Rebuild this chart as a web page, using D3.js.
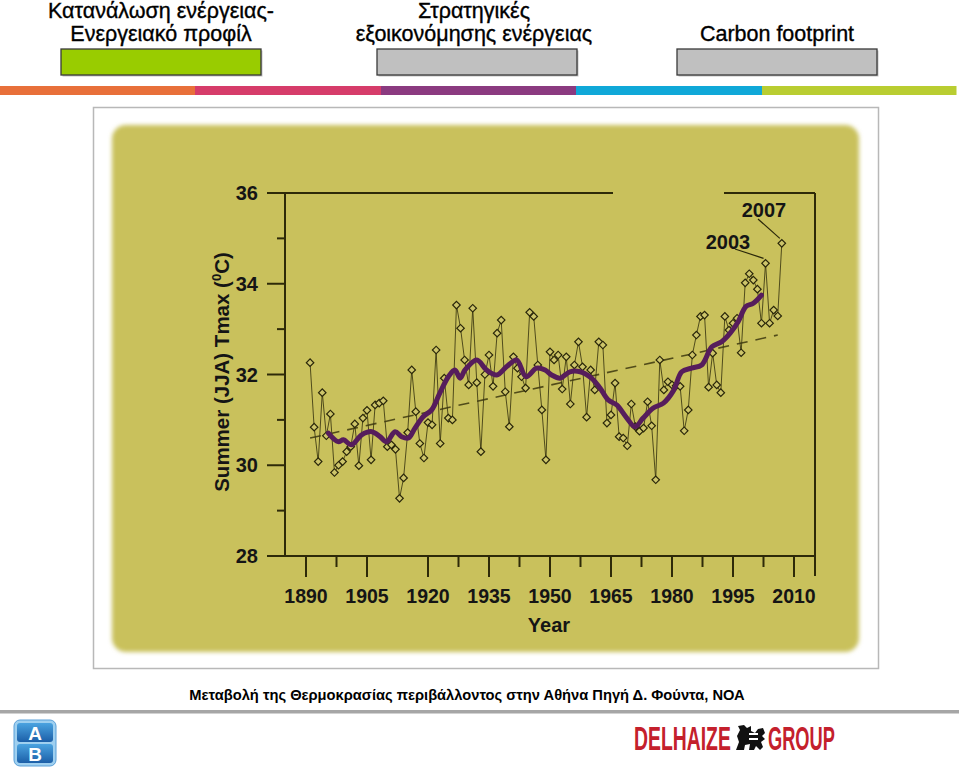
<!DOCTYPE html>
<html><head><meta charset="utf-8">
<script src="https://cdn.jsdelivr.net/npm/d3@7"></script>
<style>
html,body{margin:0;padding:0;background:#fff;}
svg{display:block;}
</style></head>
<body>
<svg id="c" width="959" height="773"></svg>
<script>
(function(){
// ---------- DATA ----------
const headerTitles = [["Κατανάλωση ενέργειας-", "Ενεργειακό προφίλ"], ["Στρατηγικές", "εξοικονόμησης ενέργειας"], ["Carbon footprint"]];
const headerBoxColors = ["#99cc00", "#c0c0c0", "#c0c0c0"];
const stripeColors = ["#e8703a", "#d63c6a", "#8b3a80", "#10a8d8", "#b9cd31"];

const years = [
  1891,1892,1893,1894,1895,1896,1897,1898,1899,1900,
  1901,1902,1903,1904,1905,1906,1907,1908,1909,1910,
  1911,1912,1913,1914,1915,1916,1917,1918,1919,1920,
  1921,1922,1923,1924,1925,1926,1927,1928,1929,1930,
  1931,1932,1933,1934,1935,1936,1937,1938,1939,1940,
  1941,1942,1943,1944,1945,1946,1947,1948,1949,1950,
  1951,1952,1953,1954,1955,1956,1957,1958,1959,1960,
  1961,1962,1963,1964,1965,1966,1967,1968,1969,1970,
  1971,1972,1973,1974,1975,1976,1977,1978,1979,1980,
  1981,1982,1983,1984,1985,1986,1987,1988,1989,1990,
  1991,1992,1993,1994,1995,1996,1997,1998,1999,2000,
  2001,2002,2003,2004,2005,2006,2007];
const tmax = [
  32.26,30.84,30.08,31.60,30.65,31.13,29.84,30.00,30.08,30.30,
  30.41,30.91,29.99,31.04,31.21,30.12,31.33,31.37,31.42,30.41,
  30.45,30.35,29.27,29.72,30.72,32.10,31.18,30.48,30.16,30.94,
  30.89,32.54,30.48,31.92,31.04,31.00,33.53,33.02,32.32,31.77,
  33.46,31.82,30.30,32.00,32.43,31.74,32.91,33.20,31.62,30.85,
  32.39,32.14,31.95,31.70,33.37,33.28,32.21,31.22,30.12,32.50,
  32.32,32.43,31.68,32.39,31.35,32.21,32.72,32.17,31.06,32.10,
  31.66,32.72,32.65,30.93,31.11,31.81,30.63,30.60,30.43,31.35,
  30.85,30.75,30.82,31.40,30.87,29.68,32.32,31.66,31.84,31.77,
  31.75,31.74,30.76,31.22,32.43,32.87,33.28,33.31,31.72,32.47,
  31.77,31.60,33.28,32.98,33.13,33.24,32.48,34.02,34.22,34.08,
  33.88,33.13,34.45,33.13,33.42,33.29,34.89];

// smoothed curve
const smoothYears = [1895.5,1897.9,1899.2,1901.2,1903.7,1906.2,1908.2,1909.8,1911.9,1913.5,1915.2,1916.8,1918.8,1920.9,1922.9,1925.0,1926.6,1927.9,1929.1,1932.0,1934.4,1936.9,1939.3,1941.8,1944.1,1946.7,1948.8,1950.4,1952.5,1954.9,1957.4,1960.2,1962.3,1964.3,1966.4,1968.9,1970.9,1972.9,1975.4,1977.9,1980.4,1982.4,1984.8,1987.3,1989.8,1992.2,1994.3,1996.3,1998.2,2000.0,2002.0];
const smoothValues = [30.71,30.52,30.56,30.45,30.67,30.74,30.63,30.52,30.74,30.63,30.60,30.82,31.07,31.22,31.59,31.95,32.10,31.92,32.10,32.32,32.10,31.99,32.17,32.32,31.95,32.14,32.10,31.99,31.92,32.06,32.06,31.92,31.70,31.44,31.33,31.04,30.85,31.04,31.26,31.37,31.65,32.06,32.14,32.21,32.61,32.72,32.91,33.17,33.50,33.57,33.75];

const trendYears = [1891, 2006];
const trendValues = [30.60, 32.87];

const xTicks = [1890, 1905, 1920, 1935, 1950, 1965, 1980, 1995, 2010];
const xMinorTicks = [1897.5, 1927.5, 1942.5, 1957.5, 1972.5, 1987.5, 2002.5];
const yTicks = [28, 30, 32, 34, 36];
const yMinorTicks = [29, 31, 33, 35];
const annotations = [{label: "2003", year: 2003}, {label: "2007", year: 2007}];
const caption = "Μεταβολή της Θερμοκρασίας περιβάλλοντος στην Αθήνα Πηγή Δ. Φούντα, ΝΟΑ";

// ---------- DRAW ----------
const svg = d3.select("#c");
const FONT = "'Liberation Sans', Arial, Helvetica, sans-serif";
const defs = svg.append("defs");
defs.append("filter").attr("id","soft").attr("x","-5%").attr("y","-5%").attr("width","110%").attr("height","110%")
  .append("feGaussianBlur").attr("stdDeviation", 2.2);
const abGrad = defs.append("linearGradient").attr("id","abg").attr("x1",0).attr("y1",0).attr("x2",0).attr("y2",1);
abGrad.append("stop").attr("offset","0%").attr("stop-color","#4aa3e0");
abGrad.append("stop").attr("offset","100%").attr("stop-color","#1c5fa8");

// header
const headerCx = [161, 474, 777];
const boxX = [61, 377, 677];
headerTitles.forEach((lines, i) => {
  const t = svg.append("text").attr("font-family", FONT).attr("font-size", 21.5)
    .attr("fill", "#000").attr("stroke", "#000").attr("stroke-width", 0.35).attr("text-anchor", "middle");
  const first = lines.length === 1 ? 41 : 18;
  lines.forEach((l, j) => t.append("tspan").attr("x", headerCx[i]).attr("y", first + j * 23).text(l));
  svg.append("rect").attr("x", boxX[i] + 1.5).attr("y", 50.5).attr("width", 200).attr("height", 26).attr("fill", "#8a8a8a").attr("opacity", 0.5);
  svg.append("rect").attr("x", boxX[i]).attr("y", 49).attr("width", 200).attr("height", 26)
    .attr("fill", headerBoxColors[i]).attr("stroke", "#3a3a3a").attr("stroke-width", 1.3);
});

// colour stripe
const stripeStops = [0, 195, 381, 576, 762, 956];
svg.selectAll("rect.stripe").data(stripeColors).join("rect").attr("class","stripe")
  .attr("x", (d, i) => stripeStops[i]).attr("y", 86).attr("width", (d, i) => stripeStops[i + 1] - stripeStops[i] + 0.5)
  .attr("height", 9).attr("fill", d => d);

// frame + panel
svg.append("rect").attr("x", 93.5).attr("y", 107.5).attr("width", 785).attr("height", 561)
  .attr("fill", "#fff").attr("stroke", "#b8b8b8").attr("stroke-width", 1.5);
svg.append("rect").attr("x", 112).attr("y", 125).attr("width", 747).attr("height", 527).attr("rx", 14)
  .attr("fill", "#c9c15b").attr("filter", "url(#soft)");

// scales
const x = d3.scaleLinear().domain([1890, 2010]).range([306, 794]);
const y = d3.scaleLinear().domain([28, 36]).range([556, 193]);
const AX = "#2e2a08";
const g = svg.append("g");

// frame lines of the plot
const pL = 285, pR = 815, pT = y(36), pB = y(28);
g.append("line").attr("x1", pL).attr("x2", pL).attr("y1", pT).attr("y2", pB).attr("stroke", AX).attr("stroke-width", 2);
g.append("line").attr("x1", pR).attr("x2", pR).attr("y1", pT).attr("y2", pB + 20).attr("stroke", AX).attr("stroke-width", 2);
g.append("line").attr("x1", pL).attr("x2", pR).attr("y1", pB).attr("y2", pB).attr("stroke", AX).attr("stroke-width", 2);
g.append("line").attr("x1", 267).attr("x2", 613).attr("y1", pT).attr("y2", pT).attr("stroke", AX).attr("stroke-width", 2);
g.append("line").attr("x1", 724).attr("x2", pR).attr("y1", pT).attr("y2", pT).attr("stroke", AX).attr("stroke-width", 2);

// y axis ticks
g.selectAll("line.ymaj").data(yTicks).join("line").attr("class","ymaj")
  .attr("x1", 267).attr("x2", pL).attr("y1", d => y(d)).attr("y2", d => y(d)).attr("stroke", AX).attr("stroke-width", 2);
g.selectAll("line.ymin").data(yMinorTicks).join("line").attr("class","ymin")
  .attr("x1", 277).attr("x2", pL).attr("y1", d => y(d)).attr("y2", d => y(d)).attr("stroke", AX).attr("stroke-width", 2);
g.selectAll("text.ylab").data(yTicks).join("text").attr("class","ylab")
  .attr("x", 258).attr("y", d => y(d) + 7).attr("text-anchor", "end")
  .attr("font-family", FONT).attr("font-weight", "bold").attr("font-size", 20).attr("fill", "#151515").text(d => d);

// x axis ticks
g.selectAll("line.xmaj").data(xTicks).join("line").attr("class","xmaj")
  .attr("x1", d => x(d)).attr("x2", d => x(d)).attr("y1", pB).attr("y2", pB + 21).attr("stroke", AX).attr("stroke-width", 2);
g.selectAll("line.xmin").data(xMinorTicks).join("line").attr("class","xmin")
  .attr("x1", d => x(d)).attr("x2", d => x(d)).attr("y1", pB).attr("y2", pB + 11).attr("stroke", AX).attr("stroke-width", 2);
g.selectAll("text.xlab").data(xTicks).join("text").attr("class","xlab")
  .attr("x", d => x(d)).attr("y", 603).attr("text-anchor", "middle")
  .attr("font-family", FONT).attr("font-weight", "bold").attr("font-size", 19.5).attr("fill", "#151515").text(d => d);

// axis titles
g.append("text").attr("x", 549).attr("y", 632).attr("text-anchor", "middle")
  .attr("font-family", FONT).attr("font-weight", "bold").attr("font-size", 20).attr("fill", "#151515").text("Year");
const yt = g.append("text").attr("transform", "translate(229,372) rotate(-90)").attr("text-anchor", "middle")
  .attr("font-family", FONT).attr("font-weight", "bold").attr("font-size", 20.5).attr("fill", "#151515");
yt.append("tspan").text("Summer (JJA) Tmax (");
yt.append("tspan").attr("font-size", 13).attr("dy", -8).text("0");
yt.append("tspan").attr("dy", 8).text("C)");

// trend (dashed)
g.append("path").datum(trendYears.map((d, i) => [d, trendValues[i]]))
  .attr("d", d3.line().x(d => x(d[0])).y(d => y(d[1])))
  .attr("fill", "none").attr("stroke", "#3c370e").attr("stroke-width", 1.6).attr("stroke-dasharray", "11,8").attr("opacity", 0.85);

// raw series line
const pts = years.map((d, i) => [d, tmax[i]]);
g.append("path").datum(pts).attr("d", d3.line().x(d => x(d[0])).y(d => y(d[1])))
  .attr("fill", "none").attr("stroke", "#3a3610").attr("stroke-width", 1).attr("opacity", 0.85);

// markers
const sym = d3.symbol().type(d3.symbolSquare).size(28);
g.selectAll("path.mk").data(pts).join("path").attr("class","mk")
  .attr("d", sym).attr("transform", d => `translate(${x(d[0])},${y(d[1])}) rotate(45)`)
  .attr("fill", "#cdc56a").attr("stroke", "#2a270a").attr("stroke-width", 1.2);

// smoothed curve
g.append("path").datum(smoothYears.map((d, i) => [d, smoothValues[i]]))
  .attr("d", d3.line().x(d => x(d[0])).y(d => y(d[1])).curve(d3.curveCatmullRom))
  .attr("fill", "none").attr("stroke", "#561d5c").attr("stroke-width", 5).attr("stroke-linejoin", "round").attr("stroke-linecap", "round");

// annotations
const annPos = {"2003": {tx: 728, ty: 249, lx1: 735, ly1: 249}, "2007": {tx: 764, ty: 217, lx1: 758, ly1: 219}};
annotations.forEach(a => {
  const p = annPos[a.label];
  const v = tmax[years.indexOf(a.year)];
  g.append("text").attr("x", p.tx).attr("y", p.ty).attr("text-anchor", "middle")
    .attr("font-family", FONT).attr("font-weight", "bold").attr("font-size", 20).attr("fill", "#151515").text(a.label);
  g.append("line").attr("x1", p.lx1).attr("y1", p.ly1).attr("x2", x(a.year) - 2).attr("y2", y(v) - 5)
    .attr("stroke", "#2a270a").attr("stroke-width", 1.2);
});

// caption
svg.append("text").attr("x", 467).attr("y", 700).attr("text-anchor", "middle")
  .attr("font-family", FONT).attr("font-weight", "bold").attr("font-size", 14.7).attr("fill", "#000").text(caption);

// separator
svg.append("rect").attr("x", 0).attr("y", 710).attr("width", 959).attr("height", 3.5).attr("fill", "#a6a6a6");

// AB logo
svg.append("rect").attr("x", 14).attr("y", 720).attr("width", 42).attr("height", 46).attr("rx", 6).attr("fill", "#9fd0f0").attr("stroke", "#5aa0d8");
svg.append("rect").attr("x", 17).attr("y", 723).attr("width", 36).attr("height", 19).attr("rx", 3).attr("fill", "url(#abg)");
svg.append("rect").attr("x", 17).attr("y", 744).attr("width", 36).attr("height", 19).attr("rx", 3).attr("fill", "url(#abg)");
svg.append("text").attr("x", 35).attr("y", 740).attr("text-anchor", "middle").attr("font-family", FONT).attr("font-weight", "bold").attr("font-size", 19).attr("fill", "#fff").text("A");
svg.append("text").attr("x", 35).attr("y", 761).attr("text-anchor", "middle").attr("font-family", FONT).attr("font-weight", "bold").attr("font-size", 19).attr("fill", "#fff").text("B");

// Delhaize logo
svg.append("text").attr("transform", "translate(634,750) scale(0.57,1)").attr("font-family", FONT).attr("font-weight", "bold").attr("font-size", 34)
  .attr("fill", "#c4202c").text("DELHAIZE");
svg.append("text").attr("transform", "translate(768,750) scale(0.537,1)").attr("font-family", FONT).attr("font-weight", "bold").attr("font-size", 34)
  .attr("fill", "#c4202c").text("GROUP");
svg.append("path").attr("transform", "translate(735,725)")
  .attr("d", "M1,25 L4,17 L2,11 L5,5 L3,1 L9,0 L12,3 L16,1 L16,6 L20,8 L23,4 L28,3 L30,8 L27,11 L30,14 L26,17 L28,22 L25,25 L21,21 L19,25 L14,25 L15,19 L10,20 L9,25 Z")
  .attr("fill", "#111");
svg.append("rect").attr("x", 749).attr("y", 733).attr("width", 9).attr("height", 2).attr("fill", "#fff");
svg.append("rect").attr("x", 749).attr("y", 738).attr("width", 9).attr("height", 2).attr("fill", "#fff");
})();
</script>
</body></html>
